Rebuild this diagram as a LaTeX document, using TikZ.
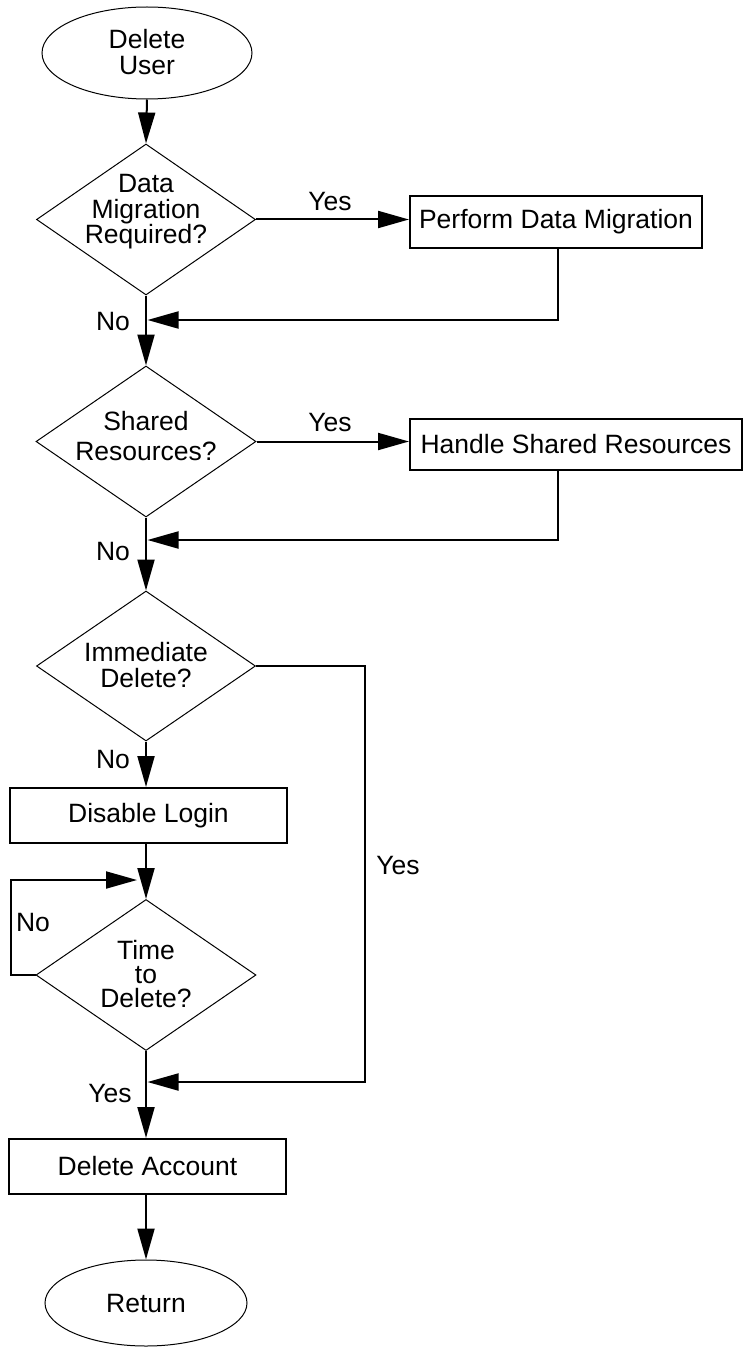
\documentclass[tikz,border=0pt]{standalone}
\usepackage{fontspec}
\setmainfont{Liberation Sans}
\usetikzlibrary{shapes.geometric,arrows.meta}
\begin{document}
\begin{tikzpicture}[x=1pt,y=-1pt,
  font=\fontsize{26.5}{26}\selectfont,
  terminal/.style={ellipse, draw, line width=1pt, inner sep=0pt},
  decision/.style={diamond, draw, line width=1pt, inner sep=0pt},
  process/.style={rectangle, draw, line width=2pt, inner sep=0pt},
  words/.style={inner sep=0pt, align=center},
  flow/.style={line width=2pt, -{Triangle[length=31pt,width=17pt]}},
  wire/.style={line width=2pt}]
\useasboundingbox (0,0) rectangle (744,1348);

% start terminal
\node[terminal, minimum width=210, minimum height=92] (start) at (147,53) {};
\node[words] (startt) at (147,52) {Delete\\User};

% first decision: data migration
\node[decision, minimum width=219, minimum height=151] (d1) at (146,219.5) {};
\node[words, font=\fontsize{26.5}{25.5}\selectfont] (d1t) at (146,212) {Data\\Migration\\Required?};
\node[process, minimum width=292, minimum height=52] (b1) at (556,222) {Perform Data Migration};

% second decision: shared resources
\node[decision, minimum width=220, minimum height=151] (d2) at (146,441.5) {};
\node[words, font=\fontsize{26.5}{30}\selectfont] (d2t) at (146,436) {Shared\\Resources?};
\node[process, minimum width=332, minimum height=51] (b2) at (576,444.5) {Handle Shared Resources};

% third decision: immediate delete
\node[decision, minimum width=219, minimum height=150] (d3) at (146,666) {};
\node[words, font=\fontsize{26.5}{26}\selectfont] (d3t) at (146,665) {Immediate\\Delete?};

\node[process, minimum width=277, minimum height=55] (b3) at (148.5,815.5) {Disable Login};

% fourth decision: waiting loop
\node[decision, minimum width=220, minimum height=151] (d4) at (146,975) {};
\node[words, font=\fontsize{26.5}{24}\selectfont] (d4t) at (146,974) {Time\\to\\Delete?};

\node[process, minimum width=277, minimum height=55] (b4) at (147.5,1166.5) {Delete Account};

% end terminal
\node[terminal, minimum width=202, minimum height=86] (stop) at (146,1303) {};
\node[words] (stopt) at (146,1303) {Return};

% merge points on the main spine
\coordinate (m1) at (147.5,320);
\coordinate (m2) at (147.5,540);
\coordinate (m3) at (147.5,1082);
\coordinate (loopin) at (137,880);

% main spine
\draw[flow] (start.south) -- (d1.north);
\draw[flow] (d1.south) -- (d2.north);
\draw[flow] (d2.south) -- (d3.north);
\draw[flow] (d3.south) -- (b3.north -| d3.south);
\draw[flow] (b3.south -| d4.north) -- (d4.north);
\draw[flow] (d4.south) -- (b4.north -| d4.south);
\draw[flow] (b4.south -| stop.north) -- (stop.north);

% yes branches
\draw[flow] (d1.east) -- (d1.east -| b1.west);
\draw[flow] (d2.east) -- (d2.east -| b2.west);
\draw[flow] (558,248) |- (m1);
\draw[flow] (558,470) |- (m2);
\draw[flow] (d3.east) -| (365,1082) -- (m3);

% no loop on the wait decision
\draw[flow] (d4.west) -- (11,975) |- (loopin);

% branch labels
\node[words] (y1) at (330,202) {Yes};
\node[words] (n1) at (113,322) {No};
\node[words] (y2) at (330,423) {Yes};
\node[words] (n2) at (113,552) {No};
\node[words] (y3) at (398,866) {Yes};
\node[words] (n3) at (113,760) {No};
\node[words] (n4) at (33,923) {No};
\node[words] (y4) at (110,1093) {Yes};
\end{tikzpicture}
\end{document}
